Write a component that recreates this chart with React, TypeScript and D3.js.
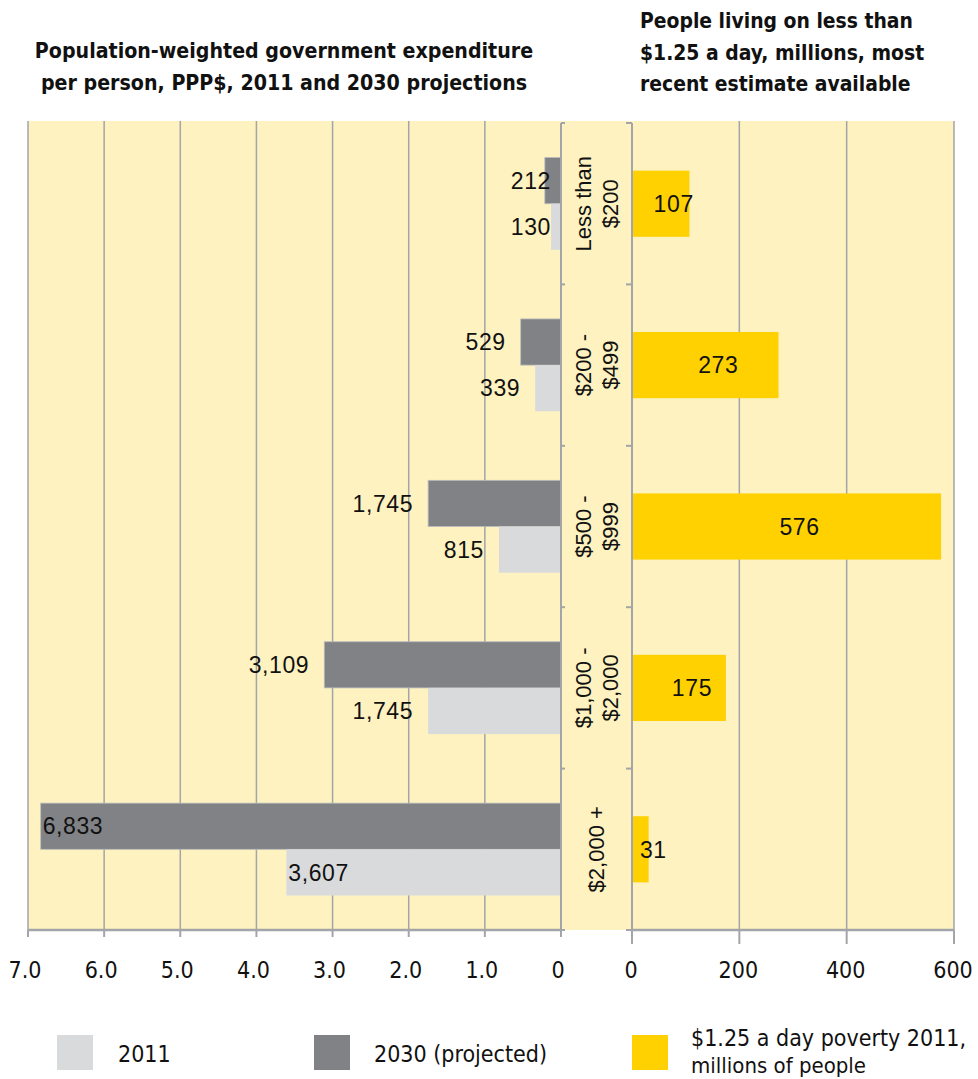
import React from "react";
import * as d3 from "d3";

const categories = ["Less than $200", "$200 - $499", "$500 - $999", "$1,000 - $2,000", "$2,000 +"];
const categoryLines = [["Less than", "$200"], ["$200 -", "$499"], ["$500 -", "$999"], ["$1,000 -", "$2,000"], ["$2,000 +"]];
const values2011 = [130, 339, 815, 1745, 3607];
const values2030 = [212, 529, 1745, 3109, 6833];
const poverty = [107, 273, 576, 175, 31];
const leftTicks = [0, 1000, 2000, 3000, 4000, 5000, 6000, 7000];
const rightTicks = [0, 200, 400, 600];

const W = 978;
const H = 1079;
const NARROW = "'Liberation Sans Narrow', 'Arial Narrow', 'DejaVu Sans Condensed', sans-serif";
const SANS = "'Liberation Sans', Arial, sans-serif";
const BG = "#fef2c0";
const GRID = "#a3a5a8";
const C2011 = "#d9dadb";
const C2030 = "#808285";
const CPOV = "#ffd100";

export default function App() {
  const top = 123;
  const bottom = 930;
  const xL = d3.scaleLinear().domain([0, 7000]).range([561, 28]);
  const xR = d3.scaleLinear().domain([0, 600]).range([632, 954]);
  const y = d3.scaleBand<string>().domain(categories).range([top, bottom]);
  const bw = y.bandwidth();
  const barH = bw * 0.286;
  const povH = bw * 0.41;
  const fmt = d3.format(",");

  const leftLabel = (v: number, yc: number, key: string) => {
    const end = xL(v);
    let x: number;
    let anchor: "start" | "end";
    if (v < 300) {
      x = xL(0) - 10;
      anchor = "end";
    } else if (v > 3500) {
      x = end + 2;
      anchor = "start";
    } else {
      x = end - 15;
      anchor = "end";
    }
    return (
      <text key={key} x={x} y={yc} dy="0.36em" textAnchor={anchor} fontFamily={SANS} fontSize={23} letterSpacing={0.6} fill="#111">
        {fmt(v)}
      </text>
    );
  };

  return (
    <svg width={W} height={H} style={{ display: "block", position: "absolute", left: 0, top: 0 }}>
      <rect x={0} y={0} width={W} height={H} fill="#fff" />
      {/* titles */}
      <g fontFamily={NARROW} fontWeight="bold" fontSize={21.2} fill="#111">
        <text x={284} y={58} textAnchor="middle">Population-weighted government expenditure</text>
        <text x={284} y={90} textAnchor="middle">per person, PPP$, 2011 and 2030 projections</text>
      </g>
      <g fontFamily={NARROW} fontWeight="bold" fontSize={20.9} fill="#111">
        <text x={640} y={28}>People living on less than</text>
        <text x={640} y={60}>$1.25 a day, millions, most</text>
        <text x={640} y={91}>recent estimate available</text>
      </g>
      {/* background */}
      <rect x={xL(7000)} y={top - 2} width={xR(600) - xL(7000)} height={bottom - top + 2} fill={BG} />
      {/* grid lines */}
      {leftTicks.filter((t) => t > 0).map((t) => (
        <line key={"gl" + t} x1={xL(t)} x2={xL(t)} y1={top - 2} y2={bottom} stroke={GRID} strokeWidth={1.5} />
      ))}
      {rightTicks.filter((t) => t > 0).map((t) => (
        <line key={"gr" + t} x1={xR(t)} x2={xR(t)} y1={top - 2} y2={bottom} stroke={GRID} strokeWidth={1.5} />
      ))}
      {/* left bars */}
      {categories.map((c, i) => {
        const yc = (y(c) as number) + bw / 2;
        return (
          <g key={"lb" + c}>
            <rect x={xL(values2030[i])} y={yc - barH} width={xL(0) - xL(values2030[i])} height={barH} fill={C2030} stroke="#b9bbbd" strokeWidth={0.8} />
            <rect x={xL(values2011[i])} y={yc} width={xL(0) - xL(values2011[i])} height={barH} fill={C2011} />
            {leftLabel(values2030[i], yc - barH / 2, "l30" + i)}
            {leftLabel(values2011[i], yc + barH / 2, "l11" + i)}
          </g>
        );
      })}
      {/* right bars */}
      {categories.map((c, i) => {
        const yc = (y(c) as number) + bw / 2;
        const x0 = xR(0);
        const x1 = xR(poverty[i]);
        return (
          <g key={"rb" + c}>
            <rect x={x0} y={yc - povH / 2} width={x1 - x0} height={povH} fill={CPOV} />
            <text x={(x0 + x1) / 2 + 13} y={yc} dy="0.36em" textAnchor="middle" fontFamily={SANS} fontSize={23} letterSpacing={0.6} fill="#111">
              {poverty[i]}
            </text>
          </g>
        );
      })}
      {/* category axes */}
      <line x1={xL(0)} x2={xL(0)} y1={top} y2={bottom + 3} stroke={GRID} strokeWidth={2} />
      <line x1={xR(0)} x2={xR(0)} y1={top} y2={bottom + 10} stroke={GRID} strokeWidth={2} />
      {y.domain().concat(["__end"]).map((c, i) => {
        const yy = i < categories.length ? (y(c) as number) : bottom;
        return (
          <g key={"ct" + i}>
            <line x1={xL(0)} x2={xL(0) + 4} y1={yy} y2={yy} stroke={GRID} strokeWidth={2} />
            <line x1={xR(0) - 6} x2={xR(0)} y1={yy} y2={yy} stroke={GRID} strokeWidth={2} />
          </g>
        );
      })}
      {/* category labels */}
      {categories.map((c, i) => {
        const yc = (y(c) as number) + bw / 2;
        const lines = categoryLines[i];
        const cx = (xL(0) + xR(0)) / 2;
        const lh = 27;
        return (
          <text
            key={"cl" + c}
            transform={`translate(${cx},${yc}) rotate(-90)`}
            textAnchor="middle"
            fontFamily={SANS}
            fontSize={22}
            fill="#111"
          >
            {lines.map((l, j) => (
              <tspan key={j} x={0} y={(j - (lines.length - 1) / 2) * lh} dy="0.36em">
                {l}
              </tspan>
            ))}
          </text>
        );
      })}
      {/* bottom axes */}
      <line x1={xL(7000)} x2={xL(0)} y1={bottom} y2={bottom} stroke={GRID} strokeWidth={2.5} />
      <line x1={xR(0)} x2={xR(600)} y1={bottom} y2={bottom} stroke={GRID} strokeWidth={2.5} />
      {leftTicks.map((t) => (
        <g key={"lt" + t}>
          <line x1={xL(t)} x2={xL(t)} y1={bottom} y2={bottom + 7} stroke={GRID} strokeWidth={2} />
          <text x={xL(t) - 3} y={978} textAnchor="middle" fontFamily={NARROW} fontSize={23} fill="#111">
            {t === 0 ? "0" : (t / 1000).toFixed(1)}
          </text>
        </g>
      ))}
      {rightTicks.map((t) => (
        <g key={"rt" + t}>
          <line x1={xR(t)} x2={xR(t)} y1={bottom} y2={bottom + 14} stroke={GRID} strokeWidth={2} />
          <text x={xR(t) - 1} y={978} textAnchor="middle" fontFamily={NARROW} fontSize={23} fill="#111">
            {t}
          </text>
        </g>
      ))}
      {/* legend */}
      <g fontFamily={NARROW} fontSize={23} fill="#111">
        <rect x={57} y={1035} width={36} height={35} fill={C2011} />
        <text x={118} y={1062}>2011</text>
        <rect x={314} y={1035} width={36} height={35} fill={C2030} />
        <text x={374} y={1062}>2030 (projected)</text>
        <rect x={632} y={1035} width={36} height={35} fill={CPOV} />
        <text x={691} y={1046}>$1.25 a day poverty 2011,</text>
      </g>
      <g fontFamily={NARROW} fontSize={22} fill="#111">
        <text x={691} y={1073}>millions of people</text>
      </g>
    </svg>
  );
}
